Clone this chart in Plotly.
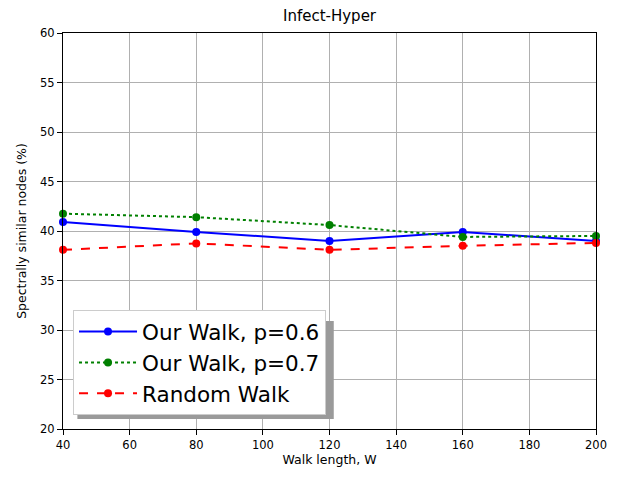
import plotly.graph_objects as go

walk_length = [40, 80, 120, 160, 200]
our_walk_p06 = [40.9, 39.9, 39.0, 39.9, 39.0]
our_walk_p07 = [41.75, 41.4, 40.6, 39.4, 39.5]
random_walk = [38.1, 38.75, 38.1, 38.5, 38.8]

FONT = "DejaVu Sans"

fig = go.Figure()

series = [
    ("Our Walk, p=0.6", our_walk_p06, "blue", "solid"),
    ("Our Walk, p=0.7", our_walk_p07, "green", "dot"),
    ("Random Walk", random_walk, "red", "dash"),
]
for name, values, color, dash in series:
    fig.add_trace(go.Scatter(
        x=walk_length, y=values, mode="lines+markers",
        name=name, legendgroup=name,
        line=dict(color=color, width=2, dash=dash),
        marker=dict(size=8, color=color),
        cliponaxis=False,
    ))

axis_common = dict(
    showline=True, linecolor="black", linewidth=1, mirror=True,
    ticks="outside", ticklen=5, tickcolor="black",
    showgrid=True, gridcolor="#b0b0b0", gridwidth=1,
    zeroline=False, automargin=False,
    tickfont=dict(family=FONT, size=11.5, color="black"),
)

# legend shadow, drawn behind the legend box
fig.add_shape(type="rect", xref="paper", yref="paper",
              x0=0.027, x1=0.508, y0=0.025, y1=0.273,
              fillcolor="#9a9a9a", line=dict(width=0), layer="above")

# the page body has an 8px margin, so the figure is sized to fit the window
fig.update_layout(
    width=613, height=469,
    margin=dict(l=55, r=25, t=25, b=48),
    plot_bgcolor="white", paper_bgcolor="white",
    font=dict(family=FONT, color="black"),
    title=dict(text="Infect-Hyper", xref="paper", x=0.5, xanchor="center",
               y=0.983, yanchor="middle",
               font=dict(family=FONT, size=15, color="black")),
    xaxis=dict(range=[40, 200], dtick=20,
               title=dict(text="Walk length, W", font=dict(family=FONT, size=12.5), standoff=4),
               **axis_common),
    yaxis=dict(range=[20, 60], dtick=5,
               title=dict(text="Spectrally similar nodes (%)", font=dict(family=FONT, size=12.5), standoff=10),
               **axis_common),
    legend=dict(x=0.0188, y=0.0354, xanchor="left", yanchor="bottom",
                bgcolor="white", bordercolor="#cccccc", borderwidth=1,
                font=dict(family=FONT, size=21.5, color="black"),
                itemwidth=58, traceorder="grouped", tracegroupgap=0),
    showlegend=True,
)

fig.write_html("out.html")
